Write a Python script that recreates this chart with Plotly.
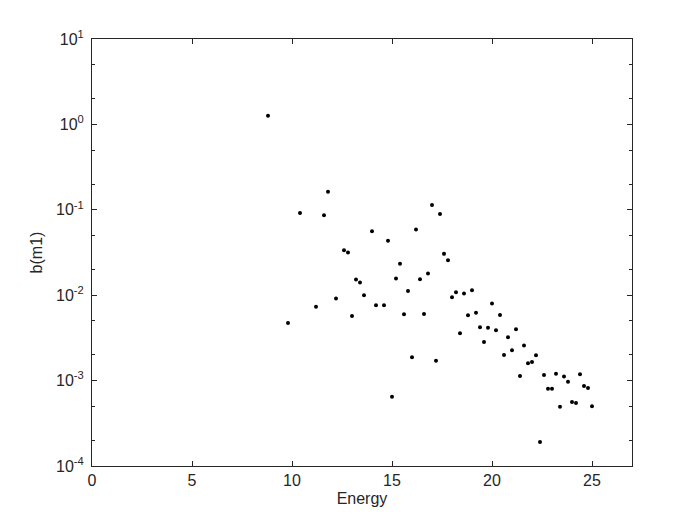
import plotly.graph_objects as go

energy = [8.8, 9.8, 10.4, 11.2, 11.6, 11.8, 12.2, 12.6, 12.8, 13.0, 13.2, 13.4, 13.6,
          14.0, 14.2, 14.6, 14.8, 15.0, 15.2, 15.4, 15.6, 15.8, 16.0, 16.2, 16.4, 16.6,
          16.8, 17.0, 17.2, 17.4, 17.6, 17.8, 18.0, 18.2, 18.4, 18.6, 18.8, 19.0, 19.2,
          19.4, 19.6, 19.8, 20.0, 20.2, 20.4, 20.6, 20.8, 21.0, 21.2, 21.4, 21.6, 21.8,
          22.0, 22.2, 22.4, 22.6, 22.8, 23.0, 23.2, 23.4, 23.6, 23.8, 24.0, 24.2, 24.4,
          24.6, 24.8, 25.0]
bm1 = [1.26, 0.00473, 0.092, 0.0073, 0.0865, 0.163, 0.00912, 0.0337, 0.0316, 0.00572,
       0.01524, 0.01406, 0.0100, 0.056, 0.00764, 0.00764, 0.0433, 0.000649, 0.01564,
       0.0234, 0.00598, 0.0112, 0.001875, 0.0587, 0.01538, 0.00604, 0.0179, 0.1135,
       0.00171, 0.089, 0.0305, 0.0257, 0.00946, 0.01083, 0.00358, 0.01045, 0.00582,
       0.01143, 0.00625, 0.00421, 0.00283, 0.00417, 0.00797, 0.00388, 0.00587, 0.0020,
       0.00321, 0.00226, 0.00399, 0.00113, 0.00257, 0.0016, 0.00165, 0.00198, 0.000191,
       0.00116, 0.000804, 0.000804, 0.00120, 0.000495, 0.00112, 0.00097, 0.000562,
       0.000547, 0.00119, 0.000865, 0.000818, 0.0005]

x_ticks = [0, 5, 10, 15, 20, 25]
y_ticks = [1e-4, 1e-3, 1e-2, 1e-1, 1e0, 1e1]
y_tick_text = ["10<sup>-4</sup>", "10<sup>-3</sup>", "10<sup>-2</sup>",
               "10<sup>-1</sup>", "10<sup>0</sup>", "10<sup>1</sup>"]

axis_color = "#262626"
font = dict(family="Liberation Sans, Arial, sans-serif", size=16, color=axis_color)

fig = go.Figure()
fig.add_trace(go.Scatter(x=energy, y=bm1, mode="markers",
                         marker=dict(color="black", size=4),
                         showlegend=False, hoverinfo="x+y"))

fig.update_layout(
    width=700, height=525,
    margin=dict(l=84, r=76, t=31, b=67),
    paper_bgcolor="white", plot_bgcolor="white",
    font=font,
    xaxis=dict(range=[0, 27], tickvals=x_ticks, ticks="inside", ticklen=5,
               tickcolor=axis_color, showline=True, linecolor=axis_color,
               linewidth=1, mirror="ticks", showgrid=False, zeroline=False,
               automargin=False,
               title=dict(text="Energy", standoff=4, font=font)),
    yaxis=dict(type="log", range=[-4, 1], tickvals=y_ticks, ticktext=y_tick_text,
               ticks="inside", ticklen=5, tickcolor=axis_color, showline=True,
               linecolor=axis_color, linewidth=1, mirror="ticks", showgrid=False,
               zeroline=False, automargin=False, ticklabelstandoff=4,
               minor=dict(ticks="inside", ticklen=3, tickcolor=axis_color,
                          showgrid=False),
               title=dict(text="b(m1)", standoff=9, font=font)),
)

fig.write_html("out.html")
